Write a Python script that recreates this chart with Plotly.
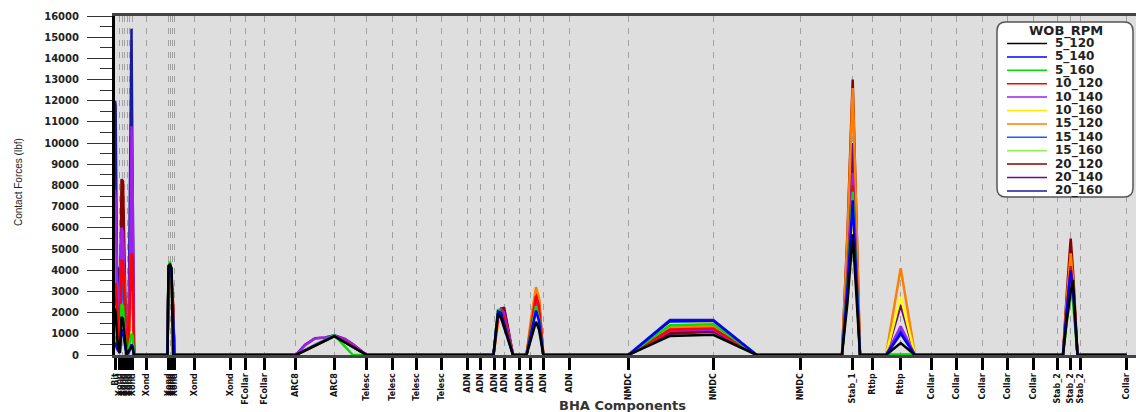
import plotly.graph_objects as go

# ---------------- component axis (distance from bit, arbitrary units) ----------------
COMP_D = [0.0, 0.45, 0.7, 0.95, 1.2, 1.45, 1.7, 3.17, 5.35, 5.55, 5.75, 5.95, 7.9, 11.5,
          13.07, 14.93, 18.07, 21.93, 25.17, 27.73, 30.1, 32.6, 35.2, 36.5, 37.9, 38.93,
          40.43, 41.5, 42.83, 45.43, 51.33, 59.83, 68.5, 73.77, 75.77, 78.57, 81.6, 84.17,
          86.73, 89.27, 91.83, 94.27, 95.57, 96.5, 101.17]
COMP_LABELS = ["Bit", "Xond", "Xond", "Xond", "Xond", "Xond", "Xond", "Xond",
               "Xond", "Xond", "Xond", "Xond", "Xond", "Xond", "FCollar", "FCollar",
               "ARC8", "ARC8", "Telesc", "Telesc", "Telesc", "Telesc",
               "ADN", "ADN", "ADN", "ADN", "ADN", "ADN", "ADN", "ADN",
               "NMDC", "NMDC", "NMDC", "Stab_1", "Rtbp", "Rtbp",
               "Collar", "Collar", "Collar", "Collar", "Collar",
               "Stab_2", "Stab_2", "Stab_2", "Collar"]

# nodes where contact forces are evaluated
NODE_D = [0.0, 0.06, 0.2, 0.33, 0.48, 0.65, 0.8, 0.95, 1.15, 1.35, 1.55, 1.65, 1.77, 1.9,
          5.25, 5.35, 5.5, 5.65, 5.8, 5.95,
          18.07, 19.0, 20.0, 21.0, 21.93, 23.0, 23.8, 24.5, 25.17,
          37.85, 38.3, 38.6, 38.9, 39.3, 39.8, 41.15, 41.6, 42.1, 42.4, 42.83,
          51.33, 55.5, 59.83, 64.17,
          72.7, 73.25, 73.77, 74.15, 74.5,
          77.1, 78.57, 80.0,
          94.8, 95.15, 95.57, 95.8, 96.25,
          101.17]

SERIES = ["5_120", "5_140", "5_160", "10_120", "10_140", "10_160",
          "15_120", "15_140", "15_160", "20_120", "20_140", "20_160"]
COLORS = ["#000000", "#0000ff", "#00e000", "#ff0000", "#a020f0", "#ffff00",
          "#ff8000", "#1e5aff", "#90ee50", "#8b0000", "#6a0a80", "#1a1aa0"]

F_5_120 = [2200, 2000, 900, 300, 100, 1800, 1700, 900, 0, 200, 300, 400, 300, 0,
           0, 4200, 4250, 4100, 0, 0,
           0, 210, 440, 670, 880, 590, 370, 180, 0,
           0, 1960, 1750, 1300, 700, 0, 0, 800, 1570, 1200, 0,
           0, 900, 950, 0,
           0, 2500, 5700, 3000, 0,
           0, 560, 0,
           0, 1500, 3000, 3540, 0,
           0]
F_5_140 = [600, 500, 300, 200, 100, 1200, 1100, 600, 0, 100, 300, 500, 400, 0,
           0, 4100, 4300, 4000, 2000, 0,
           0, 220, 450, 680, 900, 600, 380, 190, 0,
           0, 2050, 2000, 1500, 900, 0, 0, 1000, 2100, 1600, 0,
           0, 1600, 1620, 0,
           0, 3200, 7300, 3600, 0,
           0, 1050, 0,
           0, 2000, 4000, 3000, 0,
           0]
F_5_160 = [900, 800, 600, 300, 100, 2400, 2300, 1200, 0, 300, 800, 1000, 900, 0,
           0, 4200, 4400, 4000, 1800, 0,
           0, 230, 470, 710, 940, 400, 0, 0, 0,
           0, 2150, 2000, 1500, 800, 0, 0, 1100, 2300, 1700, 0,
           0, 1400, 1450, 0,
           0, 3400, 7700, 3800, 0,
           0, 0, 0,
           0, 1500, 3000, 2500, 0,
           0]
F_10_120 = [3400, 3300, 2500, 1200, 300, 4500, 4400, 2500, 0, 500, 3500, 4800, 4600, 0,
            0, 3800, 4000, 3500, 2500, 0,
            0, 230, 460, 690, 900, 650, 400, 190, 0,
            0, 1700, 2100, 1800, 1000, 0, 0, 1400, 2800, 2300, 0,
            0, 1200, 1250, 0,
            0, 3600, 8000, 4000, 0,
            0, 0, 0,
            0, 2000, 4200, 3200, 0,
            0]
F_10_140 = [7800, 7500, 3500, 1500, 300, 6000, 5800, 3000, 0, 800, 6000, 10800, 7600, 0,
            0, 3900, 4100, 3600, 2000, 0,
            0, 450, 780, 820, 920, 750, 500, 220, 0,
            0, 1800, 2150, 2000, 1100, 0, 0, 1200, 2500, 2000, 0,
            0, 1150, 1200, 0,
            0, 3900, 8600, 4300, 0,
            0, 1350, 0,
            0, 1800, 3800, 3000, 0,
            0]
F_10_160 = [1200, 1100, 800, 400, 100, 1500, 1400, 800, 0, 200, 700, 1100, 900, 0,
            0, 3700, 3900, 3300, 1700, 0,
            0, 210, 440, 670, 880, 590, 370, 180, 0,
            0, 1600, 1900, 1600, 900, 0, 0, 1300, 2600, 2100, 0,
            0, 1450, 1500, 0,
            0, 2900, 6500, 3200, 0,
            0, 2750, 0,
            0, 1600, 3300, 2600, 0,
            0]
F_15_120 = [6100, 6000, 3000, 1000, 200, 5500, 5300, 3000, 0, 500, 2500, 3000, 2800, 0,
            0, 3800, 4000, 3400, 2400, 0,
            0, 220, 450, 690, 900, 650, 410, 200, 0,
            0, 1500, 1900, 1800, 1100, 0, 0, 1700, 3200, 2700, 0,
            0, 1300, 1350, 0,
            0, 5600, 12600, 6300, 0,
            0, 4100, 0,
            0, 2400, 4800, 3600, 0,
            0]
F_15_140 = [4500, 4300, 3600, 2000, 200, 3500, 3300, 1500, 0, 400, 4500, 6000, 5500, 0,
            0, 4000, 4200, 3800, 2000, 0,
            0, 220, 460, 690, 910, 610, 380, 190, 0,
            0, 1900, 2100, 1700, 900, 0, 0, 1100, 2200, 1800, 0,
            0, 1550, 1600, 0,
            0, 3100, 7000, 3500, 0,
            0, 1200, 0,
            0, 2200, 4400, 3400, 0,
            0]
F_15_160 = [1000, 900, 700, 300, 100, 2200, 2100, 1000, 0, 200, 700, 900, 800, 0,
            0, 4000, 4200, 3800, 1800, 0,
            0, 220, 450, 680, 900, 600, 380, 190, 0,
            0, 1800, 2000, 1600, 800, 0, 0, 1200, 2400, 1900, 0,
            0, 1500, 1520, 0,
            0, 3000, 6800, 3400, 0,
            0, 0, 0,
            0, 1700, 3400, 2700, 0,
            0]
F_20_120 = [3000, 2900, 2000, 800, 200, 8300, 8200, 4500, 0, 600, 3000, 4000, 3800, 0,
            0, 3700, 3900, 3400, 2200, 0,
            0, 220, 450, 680, 890, 620, 390, 190, 0,
            0, 1700, 2200, 2200, 1200, 0, 0, 1500, 3050, 2600, 0,
            0, 1050, 1150, 0,
            0, 5800, 13000, 6500, 0,
            0, 0, 0,
            0, 2700, 5500, 4000, 0,
            0]
F_20_140 = [5000, 4900, 3000, 1500, 300, 7000, 6800, 3500, 0, 700, 5000, 8000, 6000, 0,
            0, 3800, 4000, 3500, 2000, 0,
            0, 480, 790, 830, 930, 760, 510, 230, 0,
            0, 1700, 2100, 2250, 1300, 0, 0, 1300, 2700, 2200, 0,
            0, 1000, 1100, 0,
            0, 4500, 10000, 5000, 0,
            0, 2350, 0,
            0, 2300, 4600, 3500, 0,
            0]
F_20_160 = [12000, 11800, 4200, 4000, 300, 5000, 4800, 2500, 0, 900, 9000, 15400, 7600, 0,
            0, 3900, 4100, 3600, 2000, 0,
            0, 240, 480, 700, 900, 620, 400, 200, 0,
            0, 1900, 2100, 1800, 1000, 0, 0, 1100, 2300, 1900, 0,
            0, 1650, 1650, 0,
            0, 3200, 7200, 3600, 0,
            0, 1000, 0,
            0, 2200, 4400, 3300, 0,
            0]

VALUES = [F_5_120, F_5_140, F_5_160, F_10_120, F_10_140, F_10_160,
          F_15_120, F_15_140, F_15_160, F_20_120, F_20_140, F_20_160]

Y_MAX = 16000
X_MAX = 102.1

fig = go.Figure()
# draw the heaviest WOB first so the 5_120 curve ends up in front
for name, color, vals in reversed(list(zip(SERIES, COLORS, VALUES))):
    fig.add_trace(go.Scatter(x=NODE_D, y=vals, mode="lines", name=name,
                             line=dict(color=color, width=2.5), showlegend=False))

# ---------------- geometry helpers (pixels -> paper) ----------------
L, R, T, B = 115, 1136, 16, 355


def px_x(px):
    return (px - L) / (R - L)


def px_y(py):
    return (B - py) / (B - T)


# ---------------- legend drawn by hand (compact rows) ----------------
shapes = []
annotations = []
x0, x1, y0, y1, r = 997, 1133, 22, 197, 9
pts = [("M", x0 + r, y0), ("L", x1 - r, y0), ("Q", x1, y0, x1, y0 + r),
       ("L", x1, y1 - r), ("Q", x1, y1, x1 - r, y1), ("L", x0 + r, y1),
       ("Q", x0, y1, x0, y1 - r), ("L", x0, y0 + r), ("Q", x0, y0, x0 + r, y0)]
path = ""
for p in pts:
    cmd = p[0]
    coords = p[1:]
    s = []
    for i in range(0, len(coords), 2):
        s.append(f"{px_x(coords[i]):.5f},{px_y(coords[i + 1]):.5f}")
    path += cmd + " " + " ".join(s) + " "
path += "Z"
shapes.append(dict(type="path", path=path, xref="paper", yref="paper",
                   fillcolor="white", line=dict(color="#555555", width=1.5), layer="above"))
annotations.append(dict(text="<b>WOB_RPM</b>", x=px_x(1066), y=px_y(31), xref="paper",
                        yref="paper", showarrow=False, xanchor="center", yanchor="middle",
                        font=dict(family="DejaVu Sans", size=13, color="#222222")))
for i, (name, color) in enumerate(zip(SERIES, COLORS)):
    yy = 43.5 + i * 13.4
    shapes.append(dict(type="line", xref="paper", yref="paper",
                       x0=px_x(1007), x1=px_x(1047), y0=px_y(yy), y1=px_y(yy),
                       line=dict(color=color if color != "#ffff00" else "#ffe800", width=1.5),
                       layer="above"))
    annotations.append(dict(text=f"<b>{name}</b>", x=px_x(1053), y=px_y(yy), xref="paper",
                            yref="paper", showarrow=False, xanchor="left", yanchor="middle",
                            font=dict(family="DejaVu Sans", size=12, color="#222222")))

# axis titles
annotations.append(dict(text="<b>BHA Components</b>", x=px_x(622), y=px_y(405),
                        xref="paper", yref="paper", showarrow=False,
                        xanchor="center", yanchor="middle",
                        font=dict(family="DejaVu Sans", size=13, color="#333333")))
annotations.append(dict(text="Contact Forces (lbf)", x=px_x(18), y=px_y(182),
                        xref="paper", yref="paper", showarrow=False, textangle=-90,
                        xanchor="center", yanchor="middle",
                        font=dict(family="Liberation Sans", size=10, color="#222222")))

fig.update_layout(
    width=1136, height=412,
    margin=dict(l=L, r=1136 - R, t=T, b=412 - B),
    paper_bgcolor="white", plot_bgcolor="#dedede",
    font=dict(family="DejaVu Sans"),
    showlegend=False,
    shapes=shapes, annotations=annotations,
)
fig.update_xaxes(
    range=[0, X_MAX], tickmode="array", tickvals=COMP_D, ticktext=COMP_LABELS,
    tickangle=-90, tickfont=dict(family="DejaVu Sans", size=8, color="#111111", weight="bold"),
    ticks="outside", ticklen=12, tickwidth=3, tickcolor="black",
    showgrid=True, gridcolor="#a0a0a0", gridwidth=1, griddash="6px,6px",
    showline=True, linecolor="#444444", linewidth=3, mirror=True, zeroline=False,
)
fig.update_yaxes(
    range=[0, Y_MAX], dtick=1000, tick0=0, tickformat="d",
    tickfont=dict(family="DejaVu Sans", size=10, color="#222222", weight="bold"),
    ticks="outside", ticklen=25, tickwidth=1, tickcolor="#333333", ticklabelstandoff=6,
    minor=dict(dtick=500, ticks="outside", ticklen=12, tickwidth=1, tickcolor="#333333",
               showgrid=False),
    showgrid=False, zeroline=False,
    showline=True, linecolor="black", linewidth=3,
)

fig.write_html("out.html", config={"displayModeBar": False},
               post_script="document.body.style.margin='0';")
